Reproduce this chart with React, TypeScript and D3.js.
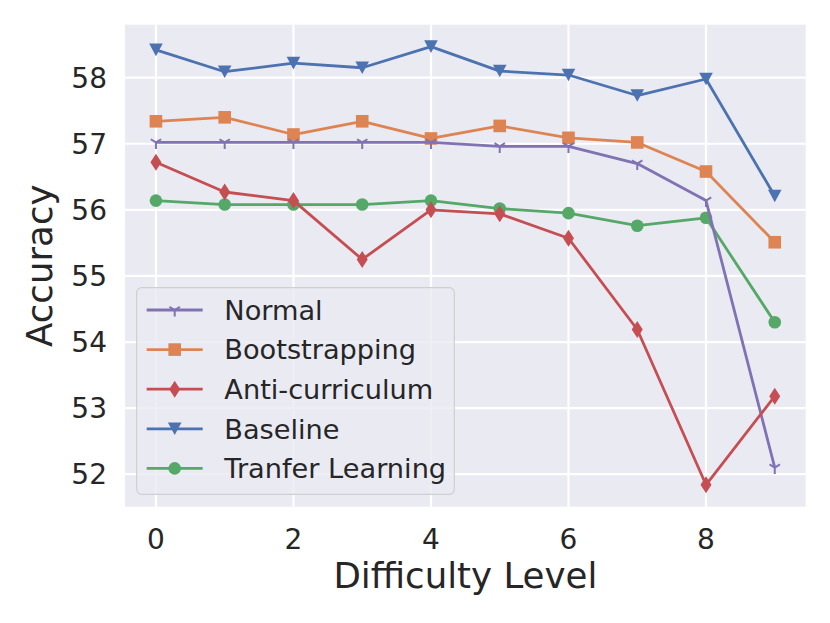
import * as d3 from "d3";

// difficulty levels 0..9
const levels = [0, 1, 2, 3, 4, 5, 6, 7, 8, 9];
const normal = [57.02, 57.02, 57.02, 57.02, 57.02, 56.96, 56.96, 56.7, 56.14, 52.1];
const bootstrapping = [57.34, 57.4, 57.14, 57.34, 57.08, 57.27, 57.09, 57.02, 56.58, 55.51];
const antiCurriculum = [56.72, 56.27, 56.14, 55.25, 56.0, 55.94, 55.57, 54.19, 51.84, 53.18];
const baseline = [58.42, 58.09, 58.22, 58.15, 58.47, 58.1, 58.04, 57.73, 57.98, 56.21];
const transfer = [56.14, 56.08, 56.08, 56.08, 56.14, 56.02, 55.95, 55.76, 55.88, 54.3];

const xTicks = [0, 2, 4, 6, 8];
const yTicks = [52, 53, 54, 55, 56, 57, 58];

type Marker = "tri" | "square" | "diamond" | "triDown" | "circle";

interface Series {
    name: string;
    values: number[];
    color: string;
    marker: Marker;
}

// legend order
const series: Series[] = [
    { name: "Normal", values: normal, color: "#8172B3", marker: "tri" },
    { name: "Bootstrapping", values: bootstrapping, color: "#DD8452", marker: "square" },
    { name: "Anti-curriculum", values: antiCurriculum, color: "#C44E52", marker: "diamond" },
    { name: "Baseline", values: baseline, color: "#4C72B0", marker: "triDown" },
    { name: "Tranfer Learning", values: transfer, color: "#55A868", marker: "circle" },
];
// drawing order (back to front)
const drawOrder = [4, 3, 1, 0, 2];

function MarkerShape({ type, x, y, color }: { type: Marker; x: number; y: number; color: string }) {
    switch (type) {
        case "square":
            return <rect x={x - 6.3} y={y - 6.3} width={12.6} height={12.6} fill={color} />;
        case "circle":
            return <circle cx={x} cy={y} r={6.3} fill={color} />;
        case "diamond":
            return (
                <path
                    d={`M${x},${y - 8.5}L${x + 5.5},${y}L${x},${y + 8.5}L${x - 5.5},${y}Z`}
                    fill={color}
                />
            );
        case "triDown":
            return (
                <path
                    d={`M${x - 6.8},${y - 6.3}L${x + 6.8},${y - 6.3}L${x},${y + 6.3}Z`}
                    fill={color}
                />
            );
        case "tri":
            return (
                <path
                    d={`M${x},${y}L${x},${y + 6.5}M${x},${y}L${x + 5.2},${y - 3.2}M${x},${y}L${x - 5.2},${y - 3.2}`}
                    stroke={color}
                    strokeWidth={2}
                    fill="none"
                />
            );
    }
}

export default function App() {
    const width = 830;
    const height = 623;
    const marginLeft = 125;
    const marginRight = 24.3;
    const marginTop = 24.7;
    const marginBottom = 116.3;

    const x = d3.scaleLinear([-0.45, 9.45], [marginLeft, width - marginRight]);
    const all = series.flatMap((s) => s.values);
    const [lo, hi] = d3.extent(all) as [number, number];
    const pad = (hi - lo) * 0.05;
    const y = d3.scaleLinear([lo - pad, hi + pad], [height - marginBottom, marginTop]);

    const line = d3
        .line<number>()
        .x((_d, i) => x(levels[i]))
        .y((d) => y(d));

    const font = "'DejaVu Sans', sans-serif";
    const textColor = "#262626";

    const legendX = 136.7;
    const legendY = 287.7;
    const rowGap = 39.6;

    return (
        <svg
            width={width}
            height={height}
            style={{ position: "absolute", left: 0, top: 0, background: "white" }}
            fontFamily={font}
        >
            <rect
                x={marginLeft}
                y={marginTop}
                width={width - marginLeft - marginRight}
                height={height - marginTop - marginBottom}
                fill="#EAEAF2"
            />
            {/* grid */}
            <g stroke="white" strokeWidth={2.2}>
                {xTicks.map((t) => (
                    <line key={"gx" + t} x1={x(t)} x2={x(t)} y1={marginTop} y2={height - marginBottom} />
                ))}
                {yTicks.map((t) => (
                    <line key={"gy" + t} x1={marginLeft} x2={width - marginRight} y1={y(t)} y2={y(t)} />
                ))}
            </g>
            {/* tick labels */}
            <g fill={textColor} fontSize={28}>
                {xTicks.map((t) => (
                    <text key={"tx" + t} x={x(t)} y={548.5} textAnchor="middle">
                        {t}
                    </text>
                ))}
                {yTicks.map((t) => (
                    <text key={"ty" + t} x={107} y={y(t)} dy="0.36em" textAnchor="end">
                        {t}
                    </text>
                ))}
            </g>
            <text x={(marginLeft + width - marginRight) / 2} y={588} textAnchor="middle" fontSize={35.6} fill={textColor}>
                Difficulty Level
            </text>
            <text
                transform={`translate(52,${(marginTop + height - marginBottom) / 2}) rotate(-90)`}
                textAnchor="middle"
                fontSize={35.6}
                fill={textColor}
            >
                Accuracy
            </text>
            {/* series */}
            {drawOrder.map((k) => {
                const s = series[k];
                return (
                    <g key={s.name}>
                        <path d={line(s.values) || ""} fill="none" stroke={s.color} strokeWidth={2.8} strokeLinejoin="round" />
                        {s.values.map((v, i) => (
                            <MarkerShape key={i} type={s.marker} x={x(levels[i])} y={y(v)} color={s.color} />
                        ))}
                    </g>
                );
            })}
            {/* legend */}
            <rect
                x={legendX}
                y={legendY}
                width={317.6}
                height={206.6}
                rx={5}
                fill="#EAEAF2"
                fillOpacity={0.8}
                stroke="#cfcfcf"
                strokeWidth={1.2}
            />
            {series.map((s, i) => {
                const cy = legendY + 22.3 + i * rowGap;
                return (
                    <g key={"lg" + s.name}>
                        <line x1={146.7} x2={202.7} y1={cy} y2={cy} stroke={s.color} strokeWidth={2.8} />
                        <MarkerShape type={s.marker} x={174.7} y={cy} color={s.color} />
                        <text x={224.3} y={cy} dy="0.36em" fontSize={27.2} fill={textColor}>
                            {s.name}
                        </text>
                    </g>
                );
            })}
        </svg>
    );
}
